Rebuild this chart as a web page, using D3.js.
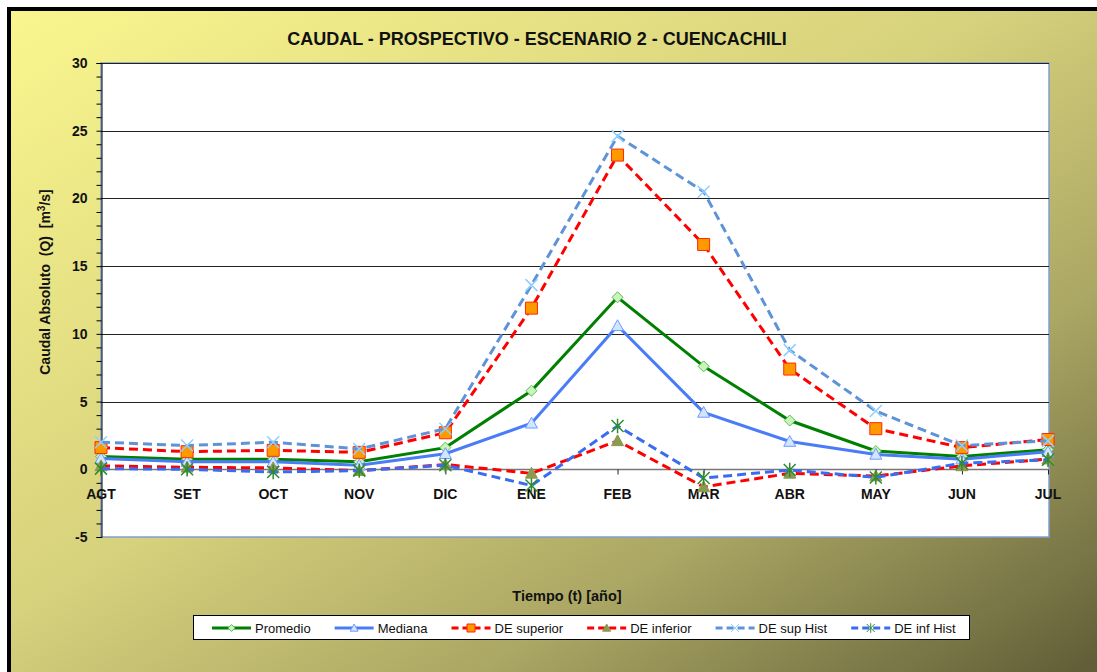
<!DOCTYPE html>
<html>
<head>
<meta charset="utf-8">
<script src="https://cdn.jsdelivr.net/npm/d3@7"></script>
<style>
  body { margin: 0; background: #fff; }
  svg { display: block; font-family: Arial, "Liberation Sans", sans-serif; }
</style>
</head>
<body>
<div id="chart-area"></div>
<script>
var months = ["AGT","SET","OCT","NOV","DIC","ENE","FEB","MAR","ABR","MAY","JUN","JUL"];

var promedio   = [0.95, 0.75, 0.75, 0.55, 1.6, 5.8, 12.7, 7.6, 3.6, 1.35, 0.95, 1.45];
var mediana    = [0.8, 0.55, 0.55, 0.3, 1.15, 3.4, 10.6, 4.2, 2.05, 1.1, 0.75, 1.3];
var deSuperior = [1.6, 1.3, 1.4, 1.25, 2.7, 11.9, 23.2, 16.6, 7.4, 3.0, 1.6, 2.2];
var deInferior = [0.25, 0.15, 0.1, -0.1, 0.35, -0.3, 2.1, -1.3, -0.3, -0.5, 0.25, 0.75];
var deSupHist  = [2.0, 1.75, 2.0, 1.5, 3.0, 13.6, 24.6, 20.5, 8.8, 4.3, 1.75, 2.1];
var deInfHist  = [0.05, 0.0, -0.2, -0.1, 0.3, -1.2, 3.2, -0.65, -0.05, -0.6, 0.45, 0.7];

var seriesNames = ["Promedio","Mediana","DE superior","DE inferior","DE sup Hist","DE inf Hist"];
var yTicks = [-5, 0, 5, 10, 15, 20, 25, 30];

var series = [
  {name: seriesNames[0], values: promedio,   color: "#008000", dash: null,  marker: "diamond",  mFill: "#c8f5b8", mStroke: "#5cb85c"},
  {name: seriesNames[1], values: mediana,    color: "#4a7cf7", dash: null,  marker: "triangle", mFill: "#d2e4ff", mStroke: "#6f9cff"},
  {name: seriesNames[2], values: deSuperior, color: "#ff0000", dash: "9,5", marker: "square",   mFill: "#ff9900", mStroke: "#ff2a00"},
  {name: seriesNames[3], values: deInferior, color: "#ff0000", dash: "9,5", marker: "triangle", mFill: "#8a9a4e", mStroke: "#8a9a4e"},
  {name: seriesNames[4], values: deSupHist,  color: "#5e93d8", dash: "9,5", marker: "x",        mFill: "none",    mStroke: "#8fd0ff"},
  {name: seriesNames[5], values: deInfHist,  color: "#3a6cf2", dash: "9,5", marker: "star",     mFill: "none",    mStroke: "#2e8b2e"}
];

var width = 1097, height = 672;
var plot = {left: 101, right: 1048, top: 63, bottom: 537};

var svg = d3.select("#chart-area")
  .append("svg")
  .attr("width", width)
  .attr("height", height);

var defs = svg.append("defs");
var grad = defs.append("linearGradient")
  .attr("id", "bg")
  .attr("x1", 0).attr("y1", 0)
  .attr("x2", 1).attr("y2", 1);
grad.append("stop").attr("offset", "0").attr("stop-color", "#faf68e");
grad.append("stop").attr("offset", "0.45").attr("stop-color", "#d6d17c");
grad.append("stop").attr("offset", "0.7").attr("stop-color", "#aba764");
grad.append("stop").attr("offset", "0.9").attr("stop-color", "#767345");
grad.append("stop").attr("offset", "1").attr("stop-color", "#5a5733");

// outer chart area (runs off the right/bottom edge)
svg.append("rect")
  .attr("x", 9).attr("y", 9)
  .attr("width", 1100).attr("height", 680)
  .attr("fill", "url(#bg)")
  .attr("stroke", "#000")
  .attr("stroke-width", 4);

svg.append("text")
  .attr("x", 537)
  .attr("y", 45)
  .attr("text-anchor", "middle")
  .attr("font-size", "18px")
  .attr("font-weight", "bold")
  .attr("fill", "#111")
  .text("CAUDAL - PROSPECTIVO - ESCENARIO 2 - CUENCACHILI");

// plot area
svg.append("rect")
  .attr("x", plot.left).attr("y", plot.top)
  .attr("width", plot.right - plot.left + 1)
  .attr("height", plot.bottom - plot.top)
  .attr("fill", "#fff")
  .attr("stroke", "#7f9fcf")
  .attr("stroke-width", 1.5);

var x = d3.scalePoint()
  .domain(months)
  .range([plot.left, plot.right]);

var y = d3.scaleLinear()
  .domain([-5, 30])
  .range([plot.bottom, plot.top]);

// gridlines
svg.append("g")
  .selectAll("line")
  .data(yTicks.filter(function(d){ return d > -5 && d !== 0; }))
  .enter()
  .append("line")
  .attr("x1", plot.left).attr("x2", plot.right + 1)
  .attr("y1", function(d){ return Math.round(y(d)) + 0.5; })
  .attr("y2", function(d){ return Math.round(y(d)) + 0.5; })
  .attr("stroke", "#222")
  .attr("stroke-width", 1);

// y axis
var yAxisCall = d3.axisLeft(y)
  .tickValues(d3.range(-5, 31, 1))
  .tickSize(5)
  .tickPadding(9)
  .tickFormat(function(d){ return d % 5 === 0 ? d : ""; });
var yAxis = svg.append("g")
  .attr("class", "yaxis")
  .attr("transform", "translate(" + (plot.left + 0.5) + ",0)")
  .call(yAxisCall);
yAxis.select(".domain").attr("stroke", "#000");
yAxis.selectAll("line").attr("stroke", "#000");
yAxis.selectAll("text")
  .attr("font-size", "14px")
  .attr("font-weight", "bold")
  .attr("font-family", "Arial, 'Liberation Sans', sans-serif")
  .attr("fill", "#111");

// x axis on the zero line
var xAxisCall = d3.axisBottom(x).tickSize(5).tickFormat("");
var xAxis = svg.append("g")
  .attr("class", "xaxis")
  .attr("transform", "translate(0," + (Math.round(y(0)) + 0.5) + ")")
  .call(xAxisCall);
xAxis.select(".domain").attr("stroke", "#777").attr("stroke-width", 1.5).attr("d", "M" + plot.left + ",0H" + plot.right);
xAxis.selectAll("line").attr("stroke", "#222");

svg.append("g")
  .selectAll("text")
  .data(months)
  .enter()
  .append("text")
  .attr("x", function(d){ return x(d); })
  .attr("y", 499)
  .attr("text-anchor", "middle")
  .attr("font-size", "14px")
  .attr("font-weight", "bold")
  .attr("fill", "#111")
  .text(function(d){ return d; });

// axis titles
var yTitle = svg.append("text")
  .attr("transform", "translate(50,282) rotate(-90)")
  .attr("text-anchor", "middle")
  .attr("font-size", "14px")
  .attr("font-weight", "bold")
  .attr("fill", "#111");
yTitle.append("tspan").text("Caudal Absoluto  (Q)  [m");
yTitle.append("tspan").attr("dy", -5).attr("font-size", "10px").text("3");
yTitle.append("tspan").attr("dy", 5).text("/s]");
yTitle.attr("xml:space", "preserve");

svg.append("text")
  .attr("x", 567)
  .attr("y", 601)
  .attr("text-anchor", "middle")
  .attr("font-size", "14.5px")
  .attr("font-weight", "bold")
  .attr("fill", "#111")
  .text("Tiempo (t) [año]");

// markers
function markerPath(type, s) {
  if (type === "diamond") return "M0," + (-s) + "L" + s + ",0L0," + s + "L" + (-s) + ",0Z";
  if (type === "square") return "M" + (-s) + "," + (-s) + "H" + s + "V" + s + "H" + (-s) + "Z";
  if (type === "triangle") return "M0," + (-s) + "L" + s + "," + (s * 0.8) + "H" + (-s) + "Z";
  if (type === "x") return "M" + (-s) + "," + (-s) + "L" + s + "," + s + "M" + (-s) + "," + s + "L" + s + "," + (-s);
  if (type === "star") return "M" + (-s) + "," + (-s) + "L" + s + "," + s + "M" + (-s) + "," + s + "L" + s + "," + (-s) + "M0," + (-s * 1.2) + "V" + (s * 1.2);
  return "";
}
var markerSize = {diamond: 5.5, square: 6, triangle: 6, x: 6, star: 6};

var line = d3.line()
  .x(function(d, i){ return x(months[i]); })
  .y(function(d){ return y(d); });

series.forEach(function(s){
  var g = svg.append("g").attr("class", "series");
  g.append("path")
    .datum(s.values)
    .attr("d", line)
    .attr("fill", "none")
    .attr("stroke", s.color)
    .attr("stroke-width", 3)
    .attr("stroke-dasharray", s.dash);
  g.selectAll("path.mk")
    .data(s.values)
    .enter()
    .append("path")
    .attr("class", "mk")
    .attr("transform", function(d, i){ return "translate(" + x(months[i]) + "," + y(d) + ")"; })
    .attr("d", markerPath(s.marker, markerSize[s.marker]))
    .attr("fill", s.mFill)
    .attr("stroke", s.mStroke)
    .attr("stroke-width", (s.marker === "x" || s.marker === "star") ? 1.5 : 1);
});

// legend
var legend = svg.append("g").attr("class", "legend");
legend.append("rect")
  .attr("x", 193.5).attr("y", 615.5)
  .attr("width", 776).attr("height", 24)
  .attr("fill", "#fff")
  .attr("stroke", "#000")
  .attr("stroke-width", 1);

var cursor = 212;
series.forEach(function(s){
  var item = legend.append("g");
  item.append("line")
    .attr("x1", cursor).attr("x2", cursor + 39)
    .attr("y1", 628).attr("y2", 628)
    .attr("stroke", s.color)
    .attr("stroke-width", 3)
    .attr("stroke-dasharray", s.dash ? "7,4" : null);
  item.append("path")
    .attr("transform", "translate(" + (cursor + 19.5) + ",628)")
    .attr("d", markerPath(s.marker, markerSize[s.marker] - 2))
    .attr("fill", s.mFill)
    .attr("stroke", s.mStroke)
    .attr("stroke-width", 1);
  var t = item.append("text")
    .attr("x", cursor + 43)
    .attr("y", 632.5)
    .attr("font-size", "13px")
    .attr("fill", "#111")
    .text(s.name);
  cursor = cursor + 43 + t.node().getComputedTextLength() + 24;
});
</script>
</body>
</html>
